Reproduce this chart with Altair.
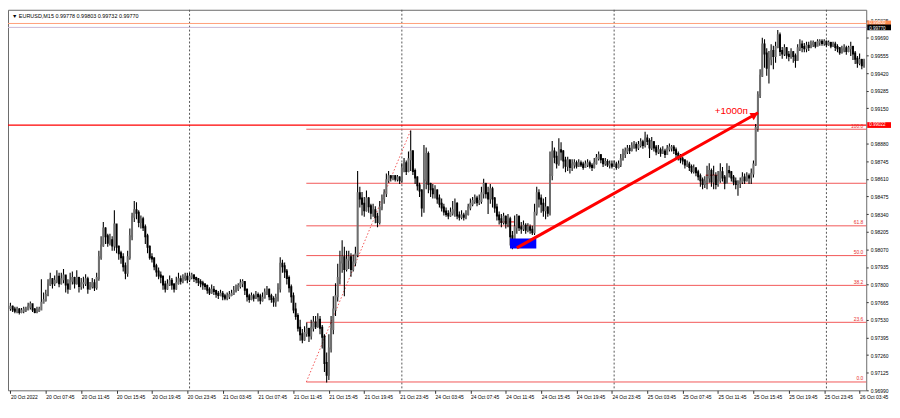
import json
import altair as alt
import pandas as pd

# ---------------- data (prices in pips: 9762 -> 0.9762) ----------------
CLOSE = [
    9763, 9761, 9760, 9761, 9759, 9760, 9761, 9761, 9763, 9765,
    9761, 9759, 9760, 9761, 9766, 9768, 9772, 9780, 9784, 9781,
    9783, 9786, 9781, 9784, 9787, 9780, 9777, 9783, 9785, 9781,
    9785, 9779, 9781, 9781, 9784, 9777, 9779, 9781, 9778, 9785,
    9801, 9810, 9823, 9817, 9812, 9814, 9810, 9826, 9809, 9804,
    9801, 9794, 9789, 9801, 9817, 9832, 9837, 9835, 9828, 9830,
    9824, 9817, 9809, 9801, 9800, 9794, 9790, 9787, 9786, 9780,
    9777, 9780, 9783, 9780, 9777, 9781, 9784, 9783, 9785, 9786,
    9784, 9786, 9787, 9785, 9784, 9782, 9781, 9780, 9779, 9776,
    9774, 9776, 9775, 9773, 9772, 9773, 9771, 9770, 9771, 9772,
    9773, 9775, 9777, 9779, 9781, 9782, 9776, 9771, 9769, 9771,
    9770, 9772, 9771, 9768, 9770, 9774, 9776, 9771, 9769, 9767,
    9770, 9777, 9796, 9794, 9790, 9785, 9778, 9771, 9761, 9756,
    9747, 9742, 9738, 9743, 9746, 9741, 9747, 9751, 9748, 9753,
    9747, 9740, 9720, 9711, 9731, 9746, 9761, 9771, 9785, 9797,
    9801, 9792, 9799, 9801, 9792, 9797, 9803, 9850, 9846, 9842,
    9837, 9846, 9840, 9835, 9837, 9832, 9828, 9839, 9846, 9850,
    9860, 9863, 9862, 9863, 9861, 9862, 9860, 9869, 9873, 9867,
    9876, 9882, 9867, 9862, 9856, 9852, 9839, 9860, 9880, 9857,
    9853, 9850, 9852, 9846, 9842, 9839, 9836, 9834, 9833, 9835,
    9837, 9842, 9833, 9832, 9833, 9832, 9834, 9839, 9842, 9844,
    9846, 9843, 9844, 9850, 9857, 9850, 9846, 9853, 9846, 9839,
    9833, 9830, 9828, 9832, 9827, 9830, 9817, 9814, 9824, 9832,
    9824, 9823, 9825, 9822, 9824, 9822, 9820, 9835, 9850, 9846,
    9842, 9837, 9839, 9835, 9864, 9882, 9878, 9873, 9883, 9882,
    9875, 9871, 9875, 9870, 9872, 9873, 9871, 9873, 9872, 9870,
    9872, 9873, 9871, 9870, 9873, 9877, 9879, 9876, 9873, 9874,
    9872, 9872, 9871, 9872, 9870, 9872, 9876, 9880, 9882, 9884,
    9883, 9886, 9887, 9885, 9887, 9889, 9887, 9892, 9890, 9885,
    9889, 9885, 9882, 9883, 9881, 9882, 9880, 9884, 9885, 9885,
    9883, 9880, 9878, 9876, 9875, 9872, 9872, 9870, 9867, 9869,
    9866, 9863, 9860, 9857, 9859, 9862, 9867, 9859, 9863, 9857,
    9860, 9866, 9862, 9858, 9867, 9866, 9862, 9859, 9857, 9858,
    9859, 9862, 9860, 9863, 9862, 9865, 9872, 9900, 9925, 9940,
    9964, 9957, 9946, 9953, 9959, 9955, 9962, 9971, 9959, 9957,
    9961, 9956, 9955, 9958, 9955, 9952, 9961, 9964, 9962, 9961,
    9963, 9962, 9964, 9965, 9963, 9966, 9966, 9965, 9966, 9964,
    9965, 9963, 9964, 9962, 9961, 9958, 9960, 9961, 9959, 9961,
    9962, 9957, 9953, 9950, 9952, 9948, 9950,
]
HIGH = [
    9766, 9764, 9763, 9763, 9762, 9762, 9763, 9763, 9766, 9767,
    9765, 9762, 9763, 9763, 9784, 9774, 9776, 9784, 9789, 9785,
    9787, 9791, 9789, 9789, 9792, 9787, 9784, 9789, 9790, 9786,
    9791, 9786, 9785, 9786, 9788, 9786, 9782, 9785, 9784, 9789,
    9806, 9817, 9828, 9824, 9819, 9819, 9817, 9837, 9826, 9810,
    9806, 9804, 9797, 9806, 9823, 9835, 9844, 9843, 9837, 9833,
    9832, 9826, 9819, 9810, 9804, 9801, 9796, 9793, 9790, 9787,
    9783, 9784, 9787, 9785, 9781, 9786, 9789, 9787, 9788, 9789,
    9789, 9789, 9789, 9788, 9786, 9785, 9784, 9783, 9781, 9780,
    9778, 9780, 9779, 9776, 9775, 9776, 9775, 9773, 9774, 9775,
    9776, 9779, 9780, 9781, 9784, 9784, 9782, 9777, 9773, 9774,
    9773, 9775, 9774, 9773, 9774, 9777, 9779, 9777, 9773, 9771,
    9773, 9781, 9801, 9799, 9797, 9792, 9787, 9780, 9774, 9766,
    9758, 9753, 9746, 9748, 9751, 9747, 9753, 9756, 9756, 9758,
    9756, 9749, 9742, 9728, 9742, 9756, 9771, 9781, 9796, 9806,
    9814, 9809, 9806, 9806, 9804, 9803, 9809, 9867, 9855, 9851,
    9847, 9852, 9847, 9842, 9842, 9840, 9835, 9844, 9849, 9853,
    9865, 9867, 9864, 9864, 9864, 9864, 9863, 9873, 9877, 9875,
    9882, 9898, 9883, 9869, 9863, 9858, 9853, 9887, 9885, 9882,
    9858, 9857, 9856, 9853, 9849, 9846, 9842, 9839, 9837, 9839,
    9844, 9846, 9843, 9836, 9837, 9835, 9837, 9842, 9846, 9847,
    9849, 9848, 9849, 9855, 9861, 9858, 9855, 9857, 9855, 9847,
    9842, 9836, 9834, 9835, 9833, 9834, 9832, 9821, 9833, 9834,
    9833, 9828, 9829, 9827, 9827, 9826, 9825, 9842, 9855, 9853,
    9849, 9846, 9847, 9840, 9882, 9890, 9885, 9882, 9892, 9889,
    9883, 9878, 9878, 9876, 9876, 9876, 9875, 9876, 9875, 9874,
    9875, 9876, 9875, 9873, 9877, 9880, 9882, 9880, 9877, 9877,
    9876, 9875, 9875, 9875, 9874, 9875, 9880, 9884, 9885, 9887,
    9887, 9889, 9890, 9889, 9890, 9892, 9891, 9897, 9895, 9892,
    9893, 9890, 9887, 9887, 9885, 9886, 9884, 9887, 9888, 9887,
    9887, 9885, 9882, 9880, 9878, 9876, 9875, 9874, 9872, 9872,
    9870, 9868, 9865, 9862, 9863, 9871, 9873, 9869, 9871, 9866,
    9867, 9873, 9870, 9864, 9873, 9871, 9867, 9864, 9862, 9860,
    9862, 9866, 9865, 9866, 9865, 9869, 9875, 9903, 9928, 9945,
    9969, 9968, 9961, 9959, 9964, 9963, 9966, 9975, 9973, 9962,
    9964, 9962, 9959, 9961, 9959, 9957, 9964, 9968, 9967, 9965,
    9966, 9966, 9967, 9967, 9966, 9968, 9968, 9968, 9968, 9967,
    9967, 9966, 9966, 9966, 9964, 9962, 9963, 9964, 9963, 9963,
    9966, 9963, 9959, 9955, 9957, 9953, 9953,
]
LOW = [
    9760, 9759, 9758, 9758, 9757, 9758, 9758, 9759, 9761, 9761,
    9759, 9758, 9758, 9759, 9761, 9766, 9767, 9771, 9779, 9777,
    9779, 9781, 9778, 9780, 9781, 9774, 9773, 9776, 9780, 9777,
    9780, 9774, 9776, 9777, 9779, 9773, 9776, 9777, 9775, 9776,
    9783, 9799, 9809, 9811, 9809, 9810, 9806, 9806, 9804, 9799,
    9796, 9790, 9784, 9786, 9799, 9814, 9828, 9830, 9824, 9823,
    9821, 9811, 9804, 9799, 9797, 9791, 9786, 9784, 9781, 9776,
    9774, 9776, 9779, 9776, 9774, 9776, 9780, 9780, 9781, 9783,
    9781, 9782, 9784, 9782, 9781, 9779, 9778, 9776, 9776, 9773,
    9772, 9773, 9772, 9770, 9769, 9771, 9768, 9768, 9768, 9769,
    9771, 9772, 9774, 9775, 9777, 9778, 9772, 9767, 9766, 9768,
    9767, 9769, 9767, 9765, 9767, 9770, 9772, 9768, 9766, 9763,
    9763, 9767, 9774, 9789, 9785, 9780, 9774, 9766, 9758, 9753,
    9744, 9737, 9735, 9737, 9740, 9736, 9738, 9744, 9746, 9747,
    9742, 9731, 9713, 9705, 9707, 9728, 9742, 9756, 9767, 9780,
    9789, 9771, 9790, 9792, 9786, 9790, 9794, 9801, 9839, 9833,
    9832, 9836, 9835, 9830, 9832, 9827, 9824, 9826, 9837, 9842,
    9847, 9858, 9859, 9860, 9859, 9859, 9857, 9858, 9866, 9864,
    9866, 9867, 9864, 9857, 9852, 9847, 9832, 9835, 9853, 9850,
    9847, 9846, 9846, 9842, 9839, 9836, 9833, 9832, 9830, 9832,
    9833, 9832, 9830, 9829, 9830, 9829, 9830, 9833, 9837, 9840,
    9842, 9840, 9841, 9842, 9846, 9846, 9834, 9842, 9839, 9835,
    9829, 9826, 9824, 9826, 9823, 9824, 9810, 9807, 9810, 9819,
    9821, 9819, 9821, 9819, 9820, 9819, 9818, 9818, 9833, 9839,
    9835, 9832, 9830, 9832, 9833, 9860, 9873, 9869, 9871, 9875,
    9869, 9866, 9867, 9865, 9867, 9869, 9869, 9870, 9870, 9868,
    9870, 9870, 9869, 9867, 9869, 9872, 9875, 9873, 9870, 9871,
    9870, 9869, 9869, 9870, 9868, 9869, 9870, 9875, 9877, 9880,
    9880, 9882, 9884, 9882, 9883, 9885, 9884, 9885, 9887, 9877,
    9883, 9882, 9879, 9880, 9878, 9880, 9877, 9880, 9882, 9882,
    9880, 9877, 9875, 9873, 9872, 9869, 9870, 9867, 9865, 9865,
    9863, 9860, 9855, 9853, 9854, 9853, 9858, 9855, 9853, 9853,
    9855, 9858, 9859, 9853, 9860, 9862, 9859, 9856, 9853, 9848,
    9854, 9857, 9857, 9859, 9857, 9857, 9862, 9871, 9897, 9923,
    9939, 9946, 9940, 9934, 9948, 9945, 9950, 9961, 9955, 9953,
    9955, 9953, 9951, 9953, 9950, 9946, 9953, 9959, 9958, 9958,
    9958, 9959, 9961, 9962, 9961, 9963, 9963, 9963, 9963, 9962,
    9963, 9961, 9962, 9959, 9958, 9956, 9957, 9958, 9956, 9958,
    9955, 9952, 9949, 9946, 9948, 9945, 9946,
]
FIRST_OPEN = 9762

TIME_LABELS = [
    "20 Oct 2022", "20 Oct 07:45", "20 Oct 11:45", "20 Oct 15:45", "20 Oct 19:45",
    "20 Oct 23:45", "21 Oct 03:45", "21 Oct 07:45", "21 Oct 11:45", "21 Oct 15:45",
    "21 Oct 19:45", "21 Oct 23:45", "24 Oct 03:45", "24 Oct 07:45", "24 Oct 11:45",
    "24 Oct 15:45", "24 Oct 19:45", "24 Oct 23:45", "25 Oct 03:45", "25 Oct 07:45",
    "25 Oct 11:45", "25 Oct 15:45", "25 Oct 19:45", "25 Oct 23:45", "26 Oct 03:45",
]
BARS_PER_LABEL = 16
# 0.99015 is hidden behind the red 0.99022 price box in the reference
PRICE_TICKS = [
    0.96990, 0.97125, 0.97260, 0.97395, 0.97530, 0.97665, 0.97800, 0.97935,
    0.98070, 0.98205, 0.98340, 0.98475, 0.98610, 0.98745, 0.98880,
    0.99150, 0.99285, 0.99420, 0.99555, 0.99690, 0.99825,
]
DAY_STARTS = [81, 177, 273, 369]

FIB_NAMES = ["0.0", "23.6", "38.2", "50.0", "61.8", "", "100.0"]
FIB_PRICES = [0.97054, 0.97511, 0.97794, 0.98022, 0.98250, 0.98576, 0.98990]
FIB_START_BAR = 133.8
FIB_TREND_BARS = [133.8, 181.2]
FIB_TREND_PRICES = [0.97054, 0.98990]

HLINE_PRICE = 0.99022
HLINE_LABEL = "0.99022"
TOP_LINE_PRICES = [0.99800, 0.99770]
TOP_LINE_LABELS = ["0.99800", "0.99770"]

ARROW_BARS = [229.0, 338.1]
ARROW_PRICES = [0.98081, 0.99116]
ARROW_HEAD = [336.6, 0.99101]
ARROW_TEXT = "+1000п"
ARROW_TEXT_POS = [333.5, 0.99128]

BOX_BARS = [225.9, 237.8]
BOX_PRICES = [0.98077, 0.98153]

SEG_BARS = [[221.5, 227.7], [314.4, 319.7]]
SEG_PRICES = [0.98280, 0.98638]

TITLE = "▼ EURUSD,M15  0.99778 0.99803 0.99732 0.99770"

# ---------------- layout ----------------
W, H = 866, 384
FONT = "Liberation Sans"
xs = alt.Scale(domain=[-1.1, 387.0], nice=False, zero=False)
ys = alt.Scale(domain=[0.96990, 0.99905], nice=False, zero=False)

n = len(CLOSE)
opens = [FIRST_OPEN] + CLOSE[:-1]
df = pd.DataFrame({
    "i": list(range(n)),
    "o": [v / 10000 for v in opens],
    "c": [v / 10000 for v in CLOSE],
    "h": [v / 10000 for v in HIGH],
    "l": [v / 10000 for v in LOW],
})
df["hi"] = df[["h", "o", "c"]].max(axis=1)
df["lo"] = df[["l", "o", "c"]].min(axis=1)
df["up"] = df["c"] >= df["o"]

label_expr = json.dumps(TIME_LABELS) + "[round(datum.value / %d)]" % BARS_PER_LABEL
x_axis = alt.Axis(
    values=[BARS_PER_LABEL * k for k in range(len(TIME_LABELS))],
    labelExpr=label_expr, orient="bottom", title=None, grid=False, domain=False,
    tickSize=3, tickColor="#333", labelAlign="left", labelBaseline="top",
    labelPadding=1, labelFontSize=5, labelFont=FONT, labelColor="#000",
    labelOverlap=False, labelBound=False, labelFlush=False,
)
y_axis = alt.Axis(
    values=PRICE_TICKS, format=".5f", orient="right", title=None, grid=False,
    domain=False, tickSize=2, tickColor="#333", labelPadding=2, labelFontSize=5,
    labelFont=FONT, labelColor="#000", labelOverlap=False, labelBound=False,
    labelFlush=False,
)

X = lambda f: alt.X(f, type="quantitative", scale=xs, axis=x_axis)
Y = lambda f: alt.Y(f, type="quantitative", scale=ys, axis=y_axis)

# separators
sep = alt.Chart(pd.DataFrame({"i": DAY_STARTS})).mark_rule(
    color="#555", strokeWidth=1, strokeDash=[2, 2]
).encode(x=X("i"))

# top lines (orange / bid)
top_df = pd.DataFrame({"p": TOP_LINE_PRICES, "line": ["#ffa07a", "#c9b8d6"]})
top_lines = alt.Chart(top_df).mark_rule(strokeWidth=1).encode(
    y=Y("p"), color=alt.Color("line:N", scale=None)
)

# fib levels
fib_df = pd.DataFrame({"p": FIB_PRICES, "name": FIB_NAMES, "x0": FIB_START_BAR})
fib_lines = alt.Chart(fib_df).mark_rule(color="#f25757", strokeWidth=1).encode(
    x=X("x0"), x2=alt.value(W), y=Y("p")
)
fib_text = alt.Chart(fib_df).mark_text(
    align="right", baseline="bottom", dy=-0.5, fontSize=5, font=FONT, color="#e83030"
).encode(x=alt.value(W - 3), y=Y("p"), text="name:N")
trend_df = pd.DataFrame({"i": FIB_TREND_BARS, "p": FIB_TREND_PRICES})
fib_trend = alt.Chart(trend_df).mark_line(
    color="#f25757", strokeWidth=1, strokeDash=[1.5, 2]
).encode(x=X("i"), y=Y("p"))

# horizontal red line
hline = alt.Chart(pd.DataFrame({"p": [HLINE_PRICE]})).mark_rule(
    color="#ff0000", strokeWidth=1.3
).encode(y=Y("p"))

# short red segments
seg_df = pd.DataFrame({"a": [s[0] for s in SEG_BARS], "b": [s[1] for s in SEG_BARS],
                       "p": SEG_PRICES})
segs = alt.Chart(seg_df).mark_rule(color="#ff0000", strokeWidth=1).encode(
    x=X("a"), x2="b:Q", y=Y("p")
)

# candles
wicks = alt.Chart(df).mark_rule(color="#000", strokeWidth=1.1, clip=True).encode(
    x=X("i"), y=Y("lo"), y2="hi:Q"
)
bodies = alt.Chart(df).mark_rule(strokeWidth=2.0, strokeCap="square", clip=True).encode(
    x=X("i"), y=Y("o"), y2="c:Q",
    color=alt.condition("datum.up", alt.value("#6e6e6e"), alt.value("#000000")),
)

# blue box
box = alt.Chart(pd.DataFrame({"a": [BOX_BARS[0]], "b": [BOX_BARS[1]],
                              "p1": [BOX_PRICES[0]], "p2": [BOX_PRICES[1]]})).mark_rect(
    color="#0000ff"
).encode(x=X("a"), x2="b:Q", y=Y("p1"), y2="p2:Q")

# arrow
arrow = alt.Chart(pd.DataFrame({"a": [ARROW_BARS[0]], "b": [ARROW_BARS[1]],
                                "p1": [ARROW_PRICES[0]], "p2": [ARROW_PRICES[1]]})).mark_rule(
    color="#ff0000", strokeWidth=3
).encode(x=X("a"), x2="b:Q", y=Y("p1"), y2="p2:Q")
head = alt.Chart(pd.DataFrame({"i": [ARROW_HEAD[0]], "p": [ARROW_HEAD[1]]})).mark_point(
    shape="triangle-up", filled=True, size=75, angle=60, color="#ff0000", opacity=1
).encode(x=X("i"), y=Y("p"))
arrow_txt = alt.Chart(pd.DataFrame({"i": [ARROW_TEXT_POS[0]], "p": [ARROW_TEXT_POS[1]],
                                    "t": [ARROW_TEXT]})).mark_text(
    align="right", baseline="middle", fontSize=10, font=FONT, color="#ff0000"
).encode(x=X("i"), y=Y("p"), text="t:N")

# price boxes on the right axis
pb_df = pd.DataFrame({
    "p": [TOP_LINE_PRICES[0], TOP_LINE_PRICES[1], HLINE_PRICE],
    "lab": [TOP_LINE_LABELS[0], TOP_LINE_LABELS[1], HLINE_LABEL],
    "fill": ["#ff8c50", "#000000", "#ff0000"],
    "base": ["bottom", "top", "middle"],
    "dy": [1.8, -1.6, 0.0],
})
pboxes = alt.Chart(pb_df).transform_calculate(
    top="datum.p + 0.00022", bot="datum.p - 0.00022"
).mark_rect(clip=False).encode(
    x=alt.value(W + 1), x2=alt.value(W + 25), y=Y("top:Q"), y2="bot:Q",
    color=alt.Color("fill:N", scale=None),
)
ptext_parts = []
for k in range(len(pb_df)):
    row = pb_df.iloc[[k]]
    ptext_parts.append(
        alt.Chart(row).mark_text(
            align="left", baseline=row["base"].iloc[0], dy=float(row["dy"].iloc[0]),
            fontSize=4.6, font=FONT, color="#ffffff", clip=False,
        ).encode(x=alt.value(W + 3), y=Y("p"), text="lab:N")
    )

# title text
title = alt.Chart(pd.DataFrame({"t": [TITLE]})).mark_text(
    align="left", baseline="middle", fontSize=5.5, font=FONT, color="#000"
).encode(x=alt.value(4), y=alt.value(6), text="t:N")

chart = alt.layer(
    sep, top_lines, fib_lines, fib_trend, hline, segs, wicks, bodies, box,
    arrow, head, arrow_txt, fib_text, pboxes, *ptext_parts, title,
).properties(
    width=W, height=H,
    padding={"left": 0, "top": 0, "right": 26, "bottom": 12},
    autosize=alt.AutoSizeParams(type="none"),
    background="#ffffff",
).configure_view(stroke="#6a6a6a", strokeWidth=1).configure_axis(labelOverlap=False)

chart.save("out.html", embed_options={"renderer": "svg", "actions": False})
